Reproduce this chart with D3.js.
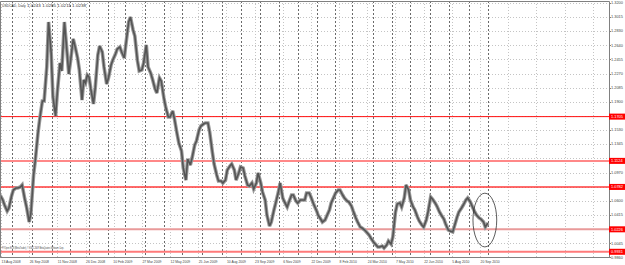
<!DOCTYPE html>
<html>
<head>
<meta charset="utf-8">
<script src="https://cdn.jsdelivr.net/npm/d3@7/dist/d3.min.js"></script>
<style>
body { margin: 0; background: #fff; }
svg { display: block; }
text { font-family: "Liberation Sans", Arial, sans-serif; }
</style>
</head>
<body>
<svg width="625" height="265"></svg>
<script>
// chart header
const symbolName = 'USDCAD, Daily';
const lastOHLC = ['1.0243', '1.0285', '1.0211', '1.0238'];
const copyright = 'FYOpen ECN (MetaTrader), \u00a9 2001-2009 MetaQuotes Software Corp.';

// closes, two per week: Tuesday, Friday (12 Aug 2008 .. 1 Oct 2010)
const closes = [
  1.0676, 1.0611,  1.0545, 1.0466,  1.0506, 1.0663,  1.0742, 1.0768,  1.0768, 1.0781,
  1.0808, 1.0624,  1.0519, 1.0322,  1.0440, 1.0939,  1.1136, 1.1490,  1.1674, 1.1910,
  1.1910, 1.2356,  1.2947, 1.2540,  1.1962, 1.1713,  1.2028, 1.2409,  1.2304, 1.2947,
  1.2684, 1.2264,  1.2435, 1.2724,  1.2632, 1.2474,  1.2317, 1.1923,  1.2186, 1.2146,
  1.2251, 1.2225,  1.2068, 1.1871,  1.2081, 1.2514,  1.2632, 1.2553,  1.2356, 1.2133,
  1.2212, 1.2382,  1.2448, 1.2527,  1.2592, 1.2619,  1.2553, 1.2474,  1.2671, 1.2947,
  1.3012, 1.2842,  1.2763, 1.2435,  1.2304, 1.2317,  1.2409, 1.2645,  1.2356, 1.2277,
  1.2199, 1.2068,  1.2015, 1.2212,  1.2172, 1.1949,  1.1831, 1.1700,  1.1700, 1.1779,
  1.1674, 1.1477,  1.1359, 1.1254,  1.1030, 1.0873,  1.1149, 1.1070,  1.1162, 1.1333,
  1.1385, 1.1530,  1.1582, 1.1608,  1.1621, 1.1621,  1.1503, 1.1241,  1.1083, 1.0939,
  1.0860, 1.0860,  1.0834, 1.0873,  1.1004, 1.1057,  1.1083, 1.1004,  1.0873, 1.0965,
  1.1044, 1.1030,  1.0926, 1.0808,  1.0795, 1.0834,  1.0755, 1.0834,  1.0965, 1.0834,
  1.0716, 1.0611,  1.0414, 1.0270,  1.0322, 1.0480,  1.0572, 1.0716,  1.0834, 1.0637,
  1.0585, 1.0519,  1.0585, 1.0676,  1.0676, 1.0598,  1.0572, 1.0611,  1.0611, 1.0611,
  1.0703, 1.0703,  1.0650, 1.0558,  1.0532, 1.0453,  1.0414, 1.0361,  1.0322, 1.0348,
  1.0401, 1.0480,  1.0572, 1.0650,  1.0703, 1.0742,  1.0742, 1.0676,  1.0637, 1.0598,
  1.0585, 1.0532,  1.0466, 1.0375,  1.0322, 1.0256,  1.0243, 1.0217,  1.0191, 1.0152,
  1.0112, 1.0060,  1.0033, 0.9994,  0.9994, 1.0007,  0.9981, 1.0020,  1.0073, 1.0033,
  1.0125, 1.0453,  1.0558, 1.0572,  1.0519, 1.0637,  1.0808, 1.0742,  1.0611, 1.0519,
  1.0480, 1.0388,  1.0335, 1.0283,  1.0256, 1.0348,  1.0453, 1.0650,  1.0624, 1.0572,
  1.0532, 1.0453,  1.0414, 1.0361,  1.0296, 1.0217,  1.0204, 1.0191,  1.0270, 1.0388,
  1.0453, 1.0506,  1.0545, 1.0611,  1.0637, 1.0585,  1.0532, 1.0453,  1.0414, 1.0375,
  1.0361, 1.0322,  1.0256, 1.0309
];

// price scale labels and the drawn horizontal levels
const priceTicks = ['1.3200', '1.3015', '1.2830', '1.2640', '1.2455', '1.2270', '1.2085', '1.1900', '1.1715',
                    '1.1530', '1.1345', '1.1160', '1.0970', '1.0785', '1.0600', '1.0415', '1.0230', '1.0045', '0.9860'];
const levels = [1.1705, 1.1124, 1.0782, 1.0226, 0.9931];

// time scale labels
const dateLabels = ['2008-08-13', '2008-09-26', '2008-11-11', '2008-12-26', '2009-02-10', '2009-03-27',
                    '2009-05-12', '2009-06-25', '2009-08-10', '2009-09-23', '2009-11-06', '2009-12-22',
                    '2010-02-08', '2010-03-24', '2010-05-07', '2010-06-22', '2010-08-05', '2010-09-20'];

// hand-drawn ellipse around the last weeks
const markFrom = '2010-09-08', markTo = '2010-10-15';
const markHigh = 1.0700, markLow = 0.9995;

const svg = d3.select('svg');
const plotRight = 609, plotTop = 1, plotBottom = 257;
const levelColors = ['#ff1010', '#ff8888', '#ff3a3a', '#e99a9a', '#ff7a7a'];
const levelWidths = [1, 2, 1.5, 2, 2];

const parse = d3.utcParse('%Y-%m-%d');
const origin = parse(dateLabels[0]);
const isHoliday = d => (d.getUTCMonth() === 11 && d.getUTCDate() === 25) || (d.getUTCMonth() === 0 && d.getUTCDate() === 1);
const isBar = d => d.getUTCDay() !== 0 && d.getUTCDay() !== 6 && !isHoliday(d);

// trading-day number counted from the first label
function barIndex(date) {
    if (date >= origin) return d3.utcDay.range(origin, date).filter(isBar).length;
    return -d3.utcDay.range(date, origin).filter(isBar).length;
}

const x = d3.scaleLinear().domain([0, 544]).range([1, 480]);
const y = d3.scaleLinear().domain([0.9860, 1.3200]).range([257.2, 2.7]);
const crisp = v => Math.round(v) + 0.5;

const tues = d3.utcTuesday.range(parse('2008-08-12'), parse('2010-10-02'));
const fris = d3.utcFriday.range(parse('2008-08-12'), parse('2010-10-02'));
const series = closes.map((c, i) => ({ date: i % 2 ? fris[(i - 1) / 2] : tues[i / 2], close: c }));

// grid
const grid = svg.append('g');
grid.selectAll('line.h').data(priceTicks).enter().append('line')
    .attr('x1', 0).attr('x2', plotRight)
    .attr('y1', d => crisp(y(+d))).attr('y2', d => crisp(y(+d)))
    .attr('stroke', '#c4c4c4').attr('stroke-dasharray', '1,2');

const gridBars = d3.range(0, x.invert(plotRight), 32);
grid.selectAll('line.v').data(gridBars).enter().append('line')
    .attr('x1', d => crisp(x(d))).attr('x2', d => crisp(x(d)))
    .attr('y1', plotTop).attr('y2', plotBottom)
    .attr('stroke', '#c4c4c4').attr('stroke-dasharray', '1,2');

// month separators
const months = d3.utcMonth.range(parse('2008-09-01'), parse('2010-10-02'));
grid.selectAll('line.m').data(months).enter().append('line')
    .attr('x1', d => crisp(x(barIndex(d)))).attr('x2', d => crisp(x(barIndex(d))))
    .attr('y1', plotTop).attr('y2', plotBottom)
    .attr('stroke', '#6a6a6a').attr('stroke-dasharray', '2,2');

// horizontal levels
svg.append('g').selectAll('line').data(levels).enter().append('line')
    .attr('x1', 0).attr('x2', plotRight)
    .attr('y1', d => y(d)).attr('y2', d => y(d))
    .attr('stroke', (d, i) => levelColors[i])
    .attr('stroke-width', (d, i) => levelWidths[i]);

// price line: soft halo plus darker core, like the dense daily bars
const line = d3.line().x(d => x(barIndex(d.date))).y(d => y(d.close));
svg.append('path').datum(series)
    .attr('d', line)
    .attr('fill', 'none')
    .attr('stroke', '#9a9a9a')
    .attr('stroke-width', 3.6)
    .attr('stroke-linejoin', 'miter')
    .attr('stroke-miterlimit', 3);
svg.append('path').datum(series)
    .attr('d', line)
    .attr('fill', 'none')
    .attr('stroke', '#555')
    .attr('stroke-width', 1.6)
    .attr('stroke-linejoin', 'miter')
    .attr('stroke-miterlimit', 3);

// ellipse annotation
const ex1 = x(barIndex(parse(markFrom))), ex2 = x(barIndex(parse(markTo)));
svg.append('ellipse')
    .attr('cx', (ex1 + ex2) / 2).attr('cy', (y(markHigh) + y(markLow)) / 2)
    .attr('rx', (ex2 - ex1) / 2).attr('ry', (y(markLow) - y(markHigh)) / 2)
    .attr('fill', 'none').attr('stroke', '#333').attr('stroke-width', 0.8);

// frame
svg.append('path')
    .attr('d', `M0.5,${plotTop + 0.5}H${plotRight + 0.5}V${plotBottom + 0.5}H0.5Z`)
    .attr('fill', 'none').attr('stroke', '#808080');

// price axis; labels hidden under a level tag are left out
const freeTicks = priceTicks.filter(t => levels.every(l => Math.abs(y(+t) - y(l)) > 5));
const axis = svg.append('g');
axis.selectAll('line').data(priceTicks).enter().append('line')
    .attr('x1', plotRight).attr('x2', plotRight + 2)
    .attr('y1', d => crisp(y(+d))).attr('y2', d => crisp(y(+d)))
    .attr('stroke', '#808080');
axis.selectAll('text').data(freeTicks).enter().append('text')
    .attr('x', 611).attr('y', d => y(+d) + 1.4)
    .attr('font-size', 3.9).attr('fill', '#444')
    .text(d => d);

const tags = svg.append('g').selectAll('g').data(levels).enter().append('g');
tags.append('rect')
    .attr('x', plotRight).attr('y', d => y(d) - 3)
    .attr('width', 625 - plotRight).attr('height', 6)
    .attr('fill', '#ff0000');
tags.append('text')
    .attr('x', 611).attr('y', d => y(d) + 1.4)
    .attr('font-size', 3.9).attr('fill', '#fff')
    .text(d => d.toFixed(4));

// time axis
svg.append('g').selectAll('text').data(dateLabels).enter().append('text')
    .attr('x', d => x(barIndex(parse(d))) + 0.5).attr('y', 262.5)
    .attr('font-size', 3.4).attr('fill', '#444')
    .text(d => d3.utcFormat('%-d %b %Y')(parse(d)));

// header and footer text
svg.append('text').attr('x', 2).attr('y', 7)
    .attr('font-size', 3.4).attr('fill', '#333')
    .text(symbolName);
svg.append('text').attr('x', 27).attr('y', 7)
    .attr('font-size', 4).attr('fill', '#333')
    .attr('textLength', 59).attr('lengthAdjust', 'spacingAndGlyphs')
    .text(lastOHLC.join('  '));
svg.append('text').attr('x', 2).attr('y', 249)
    .attr('font-size', 3.5).attr('fill', '#444')
    .attr('textLength', 62).attr('lengthAdjust', 'spacingAndGlyphs')
    .text(copyright);
</script>
</body>
</html>
